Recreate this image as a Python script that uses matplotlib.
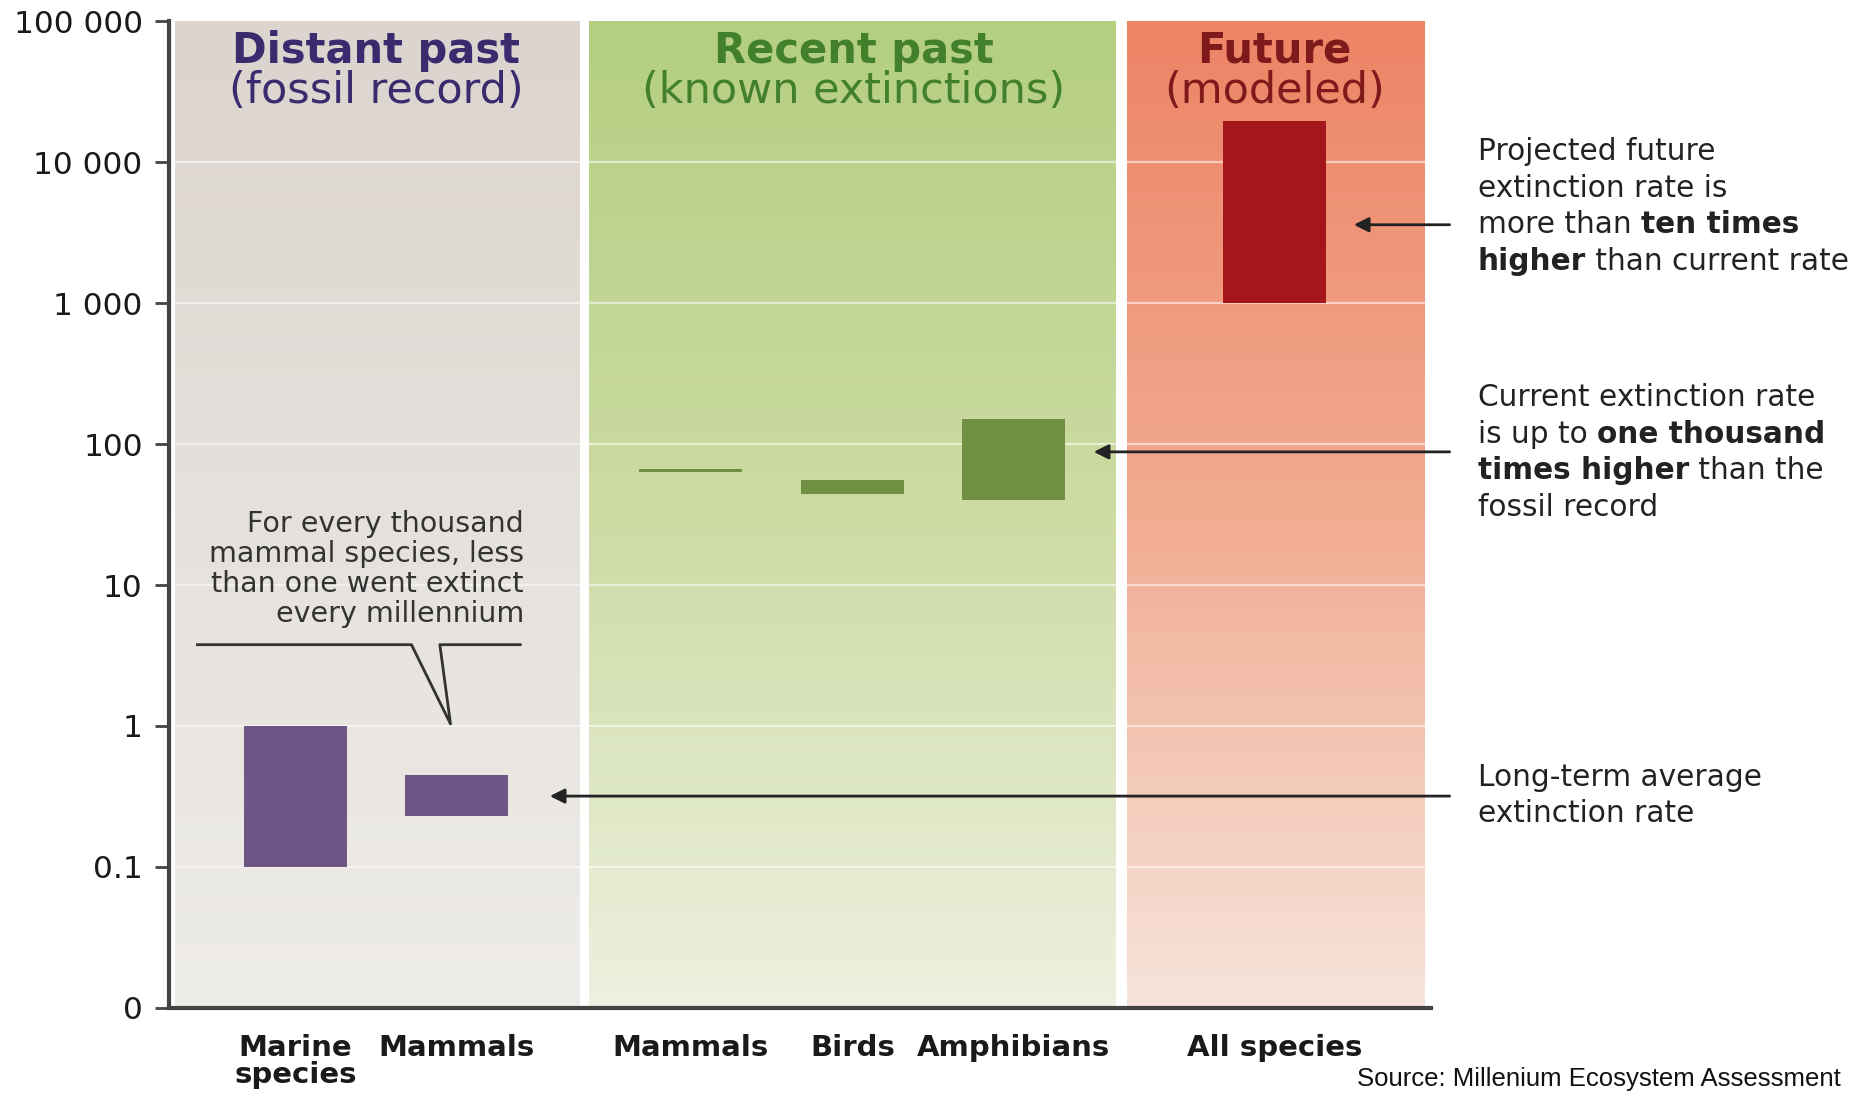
import matplotlib.pyplot as plt
import numpy as np
from matplotlib.colors import LinearSegmentedColormap
from matplotlib.lines import Line2D

plt.rcParams['font.family'] = ['DejaVu Sans']

# --- data (extinctions per thousand species per millennium) ---
categories = ['Marine\nspecies', 'Mammals', 'Mammals', 'Birds', 'Amphibians', 'All species']
rate_low = [0.1, 0.23, 63, 44, 40, 1000]
rate_high = [1.0, 0.45, 67, 56, 150, 19500]
period_of_cat = [0, 0, 1, 1, 1, 2]
periods = ['Distant past', 'Recent past', 'Future']
period_sub = ['(fossil record)', '(known extinctions)', '(modeled)']
y_ticks = [0.01, 0.1, 1, 10, 100, 1000, 10000, 100000]
y_tick_labels = ['0', '0.1', '1', '10', '100', '1 000', '10 000', '100 000']

# --- layout / style ---
x_centers = [1.07, 2.43, 4.41, 5.78, 7.14, 9.35]
bar_w = 0.87
panel_spans = [(0.05, 3.47), (3.55, 8.00), (8.10, 10.62)]
panel_grad = [['#dcd4ce', '#e5e1dc', '#eeece9'],
              ['#b4cf80', '#cddba4', '#edf1df'],
              ['#ed8465', '#f1ab91', '#f6e4da']]
bar_colors = ['#6e5585', '#6f8f42', '#a5161c']
title_colors = ['#3b2a6e', '#43802c', '#7e1a1c']

fig = plt.figure(figsize=(18.54, 10.93), dpi=100)
W, H = 1568.0, 924.0


def P(x, y):
    # position given in reference pixels -> figure fraction
    return (x / W, 1 - y / H)


rect = [143 / W, 1 - 852 / H, (1210 - 143) / W, (852 - 18) / H]
ax_bg = fig.add_axes(rect, zorder=0)
ax = fig.add_axes(rect, zorder=1)
ax.patch.set_alpha(0)

ax_bg.set_xlim(0, 10.67)
ax_bg.set_ylim(0, 1)
ax_bg.axis('off')
for (x0, x1), cols in zip(panel_spans, panel_grad):
    cmap = LinearSegmentedColormap.from_list('g', cols[::-1])
    grad = np.linspace(0, 1, 256).reshape(-1, 1)
    ax_bg.imshow(grad, cmap=cmap, extent=[x0, x1, 0, 1.001], origin='lower',
                 aspect='auto', interpolation='bicubic')

ax.set_yscale('log')
ax.set_ylim(0.01, 100000)
ax.set_xlim(0, 10.67)

for v in y_ticks[1:-1]:
    ax.axhline(v, color='white', lw=1.6, alpha=0.55, zorder=0.5)

heights = [h - l for l, h in zip(rate_low, rate_high)]
cols = [bar_colors[p] for p in period_of_cat]
ax.bar(x_centers, heights, bottom=rate_low, width=bar_w, color=cols, zorder=2)

ax.set_yticks(y_ticks)
ax.set_yticklabels(y_tick_labels)
ax.yaxis.set_minor_locator(plt.NullLocator())
ax.tick_params(axis='y', length=10, width=2, color='#444', labelsize=22.5,
               labelcolor='#1a1a1a', pad=9)
ax.set_xticks(x_centers)
ax.set_xticklabels(categories, fontsize=21, fontweight='bold', color='#1a1a1a',
                   linespacing=0.95, va='top')
ax.tick_params(axis='x', length=0, pad=19)

for s in ['top', 'right']:
    ax.spines[s].set_visible(False)
for s in ['left', 'bottom']:
    ax.spines[s].set_linewidth(3)
    ax.spines[s].set_color('#444')

# period headers
header_x = [318, 722, 1078]
for i in range(3):
    fig.text(*P(header_x[i], 43), periods[i], fontsize=30, fontweight='bold',
             color=title_colors[i], ha='center', va='center')
    fig.text(*P(header_x[i], 77), period_sub[i], fontsize=31,
             color=title_colors[i], ha='center', va='center')

# callout in distant past panel
fig.text(*P(443, 481), 'For every thousand\nmammal species, less\nthan one went extinct\nevery millennium',
         fontsize=20.5, color='#333', ha='right', va='center', linespacing=1.1)
cx = [167, 348, 381, 372, 440]
cy = [545, 545, 612, 545, 545]
fig.add_artist(Line2D([x / W for x in cx], [1 - y / H for y in cy],
                      color='#333', lw=2, transform=fig.transFigure))

renderer = fig.canvas.get_renderer()


def rich_line(x, y, parts, size=21.3):
    fx, fy = P(x, y)
    for s, w in parts:
        fig.text(fx, fy, s, fontsize=size, fontweight=w, color='#222',
                 ha='left', va='center')
        probe = fig.text(0, 0, s + '|', fontsize=size, fontweight=w)
        bar = fig.text(0, 0, '|', fontsize=size, fontweight=w)
        wpx = probe.get_window_extent(renderer).width - bar.get_window_extent(renderer).width
        probe.remove()
        bar.remove()
        fx += wpx / fig.bbox.width


notes = [
    [[('Projected future', 'normal')],
     [('extinction rate is', 'normal')],
     [('more than ', 'normal'), ('ten times', 'bold')],
     [('higher', 'bold'), (' than current rate', 'normal')]],
    [[('Current extinction rate', 'normal')],
     [('is up to ', 'normal'), ('one thousand', 'bold')],
     [('times higher', 'bold'), (' than the', 'normal')],
     [('fossil record', 'normal')]],
    [[('Long-term average', 'normal')],
     [('extinction rate', 'normal')]],
]
note_top = [128, 336, 657]
arrow_y = [190, 382, 673]
arrow_end = [1145, 925, 465]
for lines, y0 in zip(notes, note_top):
    for k, parts in enumerate(lines):
        rich_line(1250, y0 + 31 * k, parts)
for ya, xe in zip(arrow_y, arrow_end):
    fig.add_artist(plt.Annotation('', xy=P(xe, ya), xytext=P(1226, ya),
                                  xycoords='figure fraction', textcoords='figure fraction',
                                  arrowprops=dict(arrowstyle='-|>', color='#222', lw=2,
                                                  mutation_scale=22, shrinkA=0, shrinkB=0)))

fig.text(*P(1148, 912), 'Source: Millenium Ecosystem Assessment',
         family=['Liberation Sans Narrow', 'Liberation Sans'], fontsize=18.5,
         color='#111', ha='left', va='center')

fig.savefig('out.png', dpi=100)
